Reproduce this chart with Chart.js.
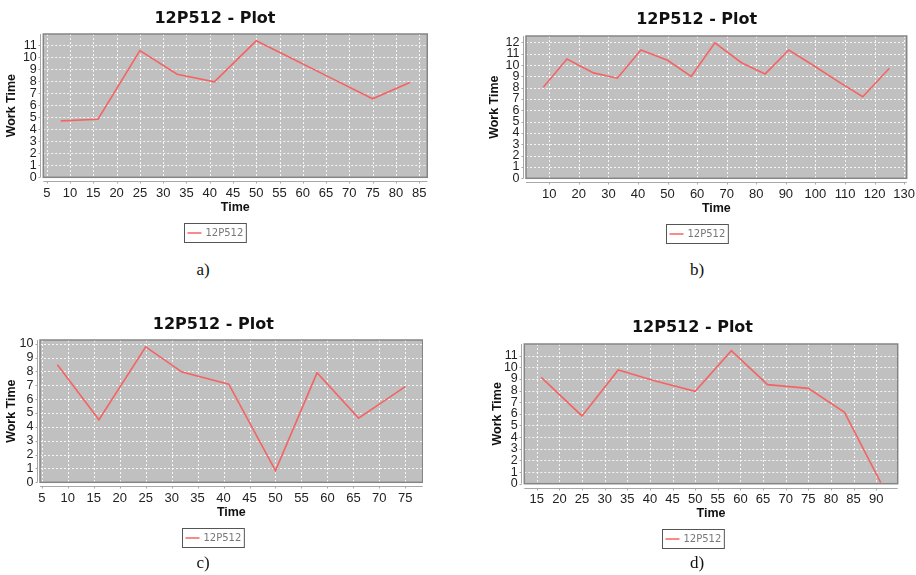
<!DOCTYPE html>
<html>
<head>
<meta charset="utf-8">
<script src="https://cdn.jsdelivr.net/npm/chart.js@4/dist/chart.umd.min.js"></script>
<style>
  html, body { margin: 0; padding: 0; background: #ffffff; }
  body { width: 916px; height: 575px; position: relative; overflow: hidden; }
  .panel { position: absolute; }
  .cap { position: absolute; font-family: "Liberation Serif", "DejaVu Serif", serif; font-size: 17px; color: #111; transform: translate(-50%, -50%); }
</style>
</head>
<body>
<div class="panel" id="pa"><canvas id="ca"></canvas></div>
<div class="panel" id="pb"><canvas id="cb"></canvas></div>
<div class="panel" id="pc"><canvas id="cc"></canvas></div>
<div class="panel" id="pd"><canvas id="cd"></canvas></div>
<div class="cap" style="left:203px; top:270px;">a)</div>
<div class="cap" style="left:697px; top:270px;">b)</div>
<div class="cap" style="left:203px; top:563px;">c)</div>
<div class="cap" style="left:697px; top:563px;">d)</div>
<script>
// ---- data ----
const chartTitle = '12P512 - Plot';
const seriesLabel = '12P512';
const xTitle = 'Time';
const yTitle = 'Work Time';

const aTimes = [8, 16, 25, 33, 41, 50, 58, 66, 75, 83];
const aWork  = [4.71, 4.85, 10.58, 8.6, 7.97, 11.39, 9.85, 8.3, 6.55, 7.91];
const aXTicks = [5, 10, 15, 20, 25, 30, 35, 40, 45, 50, 55, 60, 65, 70, 75, 80, 85];
const aYTicks = [0, 1, 2, 3, 4, 5, 6, 7, 8, 9, 10, 11];

const bTimes = [8, 16, 25, 33, 41, 50, 58, 66, 75, 83, 91, 100, 108, 116, 125];
const bWork  = [8.05, 10.54, 9.31, 8.84, 11.33, 10.42, 9.01, 11.97, 10.21, 9.22, 11.33, 9.85, 8.5, 7.2, 9.72];
const bXTicks = [10, 20, 30, 40, 50, 60, 70, 80, 90, 100, 110, 120, 130];
const bYTicks = [0, 1, 2, 3, 4, 5, 6, 7, 8, 9, 10, 11, 12];

const cTimes = [8, 16, 25, 32, 41, 50, 58, 66, 75];
const cWork  = [8.48, 4.51, 9.78, 7.95, 7.08, 0.84, 7.9, 4.63, 6.9];
const cXTicks = [5, 10, 15, 20, 25, 30, 35, 40, 45, 50, 55, 60, 65, 70, 75];
const cYTicks = [0, 1, 2, 3, 4, 5, 6, 7, 8, 9, 10];

const dTimes = [16, 25, 33, 41, 50, 58, 66, 75, 83, 91];
const dWork  = [9.14, 5.82, 9.77, 8.85, 7.94, 11.43, 8.51, 8.19, 6.13, 0.09];
const dXTicks = [15, 20, 25, 30, 35, 40, 45, 50, 55, 60, 65, 70, 75, 80, 85, 90];
const dYTicks = [0, 1, 2, 3, 4, 5, 6, 7, 8, 9, 10, 11];

// ---- layout (positions / styles only) ----
const layouts = {
  a: { left: 0,   top: 0,   W: 428, H: 250, padL: 2.7,  padR: 0.7,  padB: 32.7, tPad: [8.9, 5.9],  yW: 40.6, yTP: 1.5 },
  b: { left: 470, top: 0,   W: 446, H: 250, padL: 16.7, padR: 9.3,  padB: 31.7, tPad: [10.1, 6.7], yW: 39.3, yTP: 0.5 },
  c: { left: 0,   top: 305, W: 423, H: 250, padL: 3.9,  padR: 0.3,  padB: 32.7, tPad: [10.1, 5.7], yW: 36.1, yTP: 0.3 },
  d: { left: 470, top: 310, W: 446, H: 250, padL: 17.3, padR: 18.3, padB: 36.3, tPad: [8.4, 6.4],  yW: 37,   yTP: 2.6 }
};

const TITLE_FONT = '"DejaVu Sans", Tahoma, sans-serif';
const FONT = '"Liberation Sans", Arial, sans-serif';
const LINE_COLOR = '#f46464';

const plotDeco = {
  id: 'plotDeco',
  beforeDatasetsDraw(chart) {
    const { ctx, chartArea: ca, scales } = chart;
    ctx.save();
    ctx.fillStyle = '#c0c0c0';
    ctx.fillRect(ca.left, ca.top, ca.right - ca.left, ca.bottom - ca.top);
    ctx.strokeStyle = 'rgba(255,255,255,0.85)';
    ctx.lineWidth = 1;
    ctx.setLineDash([2, 2]);
    scales.x.ticks.forEach(t => {
      const px = Math.round(scales.x.getPixelForValue(t.value)) + 0.5;
      ctx.beginPath(); ctx.moveTo(px, ca.top); ctx.lineTo(px, ca.bottom); ctx.stroke();
    });
    scales.y.ticks.forEach(t => {
      const py = Math.round(scales.y.getPixelForValue(t.value)) + 0.5;
      ctx.beginPath(); ctx.moveTo(ca.left, py); ctx.lineTo(ca.right, py); ctx.stroke();
    });
    ctx.restore();
  },
  afterDraw(chart) {
    const { ctx, chartArea: ca, scales } = chart;
    const lo = chart.options.plugins.plotDeco;
    ctx.save();
    // plot border
    ctx.strokeStyle = '#858585';
    ctx.lineWidth = 1.5;
    ctx.strokeRect(ca.left, ca.top, ca.right - ca.left, ca.bottom - ca.top);
    // offset axis lines
    ctx.strokeStyle = '#a8a8a8';
    ctx.lineWidth = 1;
    const ax = Math.round(ca.left - 3) + 0.5;
    ctx.beginPath(); ctx.moveTo(ax, ca.top); ctx.lineTo(ax, ca.bottom); ctx.stroke();
    scales.y.ticks.forEach(t => {
      const py = Math.round(scales.y.getPixelForValue(t.value)) + 0.5;
      ctx.beginPath(); ctx.moveTo(ax - 2, py); ctx.lineTo(ax, py); ctx.stroke();
    });
    const ay = Math.round(ca.bottom + 4) + 0.5;
    ctx.beginPath(); ctx.moveTo(ca.left, ay); ctx.lineTo(ca.right, ay); ctx.stroke();
    scales.x.ticks.forEach(t => {
      const px = Math.round(scales.x.getPixelForValue(t.value)) + 0.5;
      ctx.beginPath(); ctx.moveTo(px, ay); ctx.lineTo(px, ay + 2); ctx.stroke();
    });
    // legend box
    const ds = chart.data.datasets[0];
    ctx.font = '10px ' + TITLE_FONT;
    const tw = ctx.measureText(ds.label).width;
    const bw = 3 + 14 + 4 + tw + 3;
    const bh = 19;
    const cx = lo.cx;
    const bx = Math.round(cx - bw / 2) + 0.5;
    const by = Math.round(ca.bottom + lo.legendGap) + 0.5;
    ctx.strokeStyle = '#555555';
    ctx.lineWidth = 1;
    ctx.strokeRect(bx, by, bw, bh);
    ctx.strokeStyle = ds.borderColor;
    ctx.lineWidth = 1.5;
    ctx.beginPath(); ctx.moveTo(bx + 3, by + bh / 2); ctx.lineTo(bx + 17, by + bh / 2); ctx.stroke();
    ctx.fillStyle = '#777777';
    ctx.textBaseline = 'middle';
    ctx.textAlign = 'left';
    ctx.fillText(ds.label, bx + 21, by + bh / 2 + 0.5);
    ctx.restore();
  }
};

function makeChart(key, times, work, xTicks, yTicks) {
  const lo = layouts[key];
  const wrap = document.getElementById('p' + key);
  wrap.style.left = lo.left + 'px';
  wrap.style.top = lo.top + 'px';
  wrap.style.width = lo.W + 'px';
  wrap.style.height = lo.H + 'px';
  const pts = times.map((t, i) => ({ x: t, y: work[i] }));
  const xr = Math.max(...times) - Math.min(...times);
  const xMin = Math.min(...times) - 0.05 * xr;
  const xMax = Math.max(...times) + 0.05 * xr;
  const yMax = Math.max(...work) * 1.05;
  new Chart(document.getElementById('c' + key), {
    type: 'line',
    data: {
      datasets: [{
        label: seriesLabel,
        data: pts,
        borderColor: LINE_COLOR,
        borderWidth: 1.6,
        pointRadius: 0,
        tension: 0,
        fill: false
      }]
    },
    options: {
      responsive: true,
      maintainAspectRatio: false,
      animation: false,
      devicePixelRatio: 1,
      layout: { padding: { left: lo.padL, right: lo.padR, top: 0, bottom: lo.padB } },
      plugins: {
        legend: { display: false },
        tooltip: { enabled: false },
        title: {
          display: true,
          text: chartTitle,
          color: '#111111',
          font: { family: TITLE_FONT, size: 16, weight: 'bold', lineHeight: 1.2 },
          padding: { top: lo.tPad[0], bottom: lo.tPad[1] }
        },
        plotDeco: { cx: (lo.padL + lo.W - lo.padR) / 2, legendGap: 45.5 }
      },
      scales: {
        x: {
          type: 'linear',
          min: xMin,
          max: xMax,
          grid: { display: false, drawTicks: false },
          border: { display: false },
          afterBuildTicks: s => { s.ticks = xTicks.map(v => ({ value: v })); },
          afterFit: s => { s.height = 40; s.paddingLeft = 0; s.paddingRight = 0; },
          ticks: { autoSkip: false, maxRotation: 0, padding: 8, color: '#222222', font: { family: FONT, size: 13 } },
          title: { display: true, text: xTitle, color: '#111111', font: { family: FONT, size: 12.5, weight: 'bold', lineHeight: 1.2 }, padding: { top: 0, bottom: 2.5 } }
        },
        y: {
          type: 'linear',
          min: 0,
          max: yMax,
          grid: { display: false, drawTicks: false },
          border: { display: false },
          afterBuildTicks: s => { s.ticks = yTicks.map(v => ({ value: v })); },
          afterFit: s => { s.width = lo.yW; s.paddingTop = 0; s.paddingBottom = 0; },
          ticks: { autoSkip: false, padding: 6.5, color: '#222222', font: { family: FONT, size: 12.5 } },
          title: { display: true, text: yTitle, color: '#111111', font: { family: FONT, size: 12.5, weight: 'bold', lineHeight: 1.2 }, padding: { top: lo.yTP, bottom: 0 } }
        }
      }
    },
    plugins: [plotDeco]
  });
}

makeChart('a', aTimes, aWork, aXTicks, aYTicks);
makeChart('b', bTimes, bWork, bXTicks, bYTicks);
makeChart('c', cTimes, cWork, cXTicks, cYTicks);
makeChart('d', dTimes, dWork, dXTicks, dYTicks);
</script>
</body>
</html>
